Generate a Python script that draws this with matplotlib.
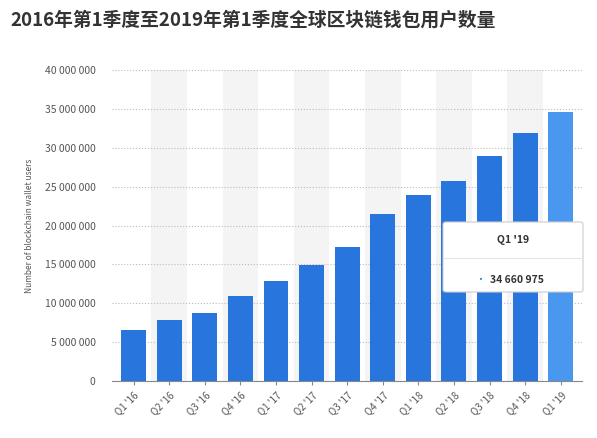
import matplotlib
matplotlib.use("Agg")
import matplotlib.pyplot as plt
from matplotlib.patches import FancyBboxPatch

plt.rcParams['font.family'] = ['Noto Sans CJK SC', 'DejaVu Sans']

categories = ["Q1 '16","Q2 '16","Q3 '16","Q4 '16","Q1 '17","Q2 '17","Q3 '17","Q4 '17",
              "Q1 '18","Q2 '18","Q3 '18","Q4 '18","Q1 '19"]
values = [6600000, 7800000, 8800000, 10900000, 12900000, 14900000, 17200000, 21500000,
          23900000, 25700000, 28900000, 31900000, 34660975]
yticks = [0, 5000000, 10000000, 15000000, 20000000, 25000000, 30000000, 35000000, 40000000]

def fmt(v):
    return f"{v:,}".replace(",", " ")

fig = plt.figure(figsize=(5.97, 4.38), dpi=100)
ax = fig.add_axes([0.188, 0.130, 0.787, 0.710])
x = list(range(len(categories)))
for i in x:
    if i % 2 == 1:
        ax.axvspan(i - 0.5, i + 0.5, color='#f4f4f4', zorder=0, lw=0)
colors = ['#2876dd'] * (len(values) - 1) + ['#4a97f0']
ax.bar(x, values, width=0.7, color=colors, zorder=3)
ax.set_xlim(-0.6, len(categories) - 0.4)
ax.set_ylim(0, 40000000)
ax.set_yticks(yticks)
ax.set_yticklabels([fmt(v) for v in yticks], fontsize=7.5, color='#555555')
ax.set_xticks(x)
ax.set_xticklabels(categories, rotation=45, ha='right', fontsize=7, color='#555555', rotation_mode='anchor')
ax.grid(axis='y', linestyle=':', color='#bbbbbb', zorder=1)
for s in ['top', 'right', 'left']:
    ax.spines[s].set_visible(False)
ax.spines['bottom'].set_color('#888888')
ax.tick_params(axis='y', length=0, pad=12)
ax.tick_params(axis='x', length=3, color='#888888')
ax.set_ylabel('Number of blockchain wallet users', fontsize=6, color='#555555', labelpad=8)

fig.text(0.017, 0.955, '2016年第1季度至2019年第1季度全球区块链钱包用户数量',
         fontsize=13.5, fontweight='bold', color='#333333', va='center')

# tooltip
box = FancyBboxPatch((443/597, (438-292)/438), 140/597, 70/438,
                     boxstyle='round,pad=0,rounding_size=0.005', transform=fig.transFigure,
                     facecolor='white', edgecolor='#cccccc', lw=0.8, zorder=10)
fig.patches.append(box)
fig.add_artist(plt.Line2D([443/597, 583/597], [(438-258)/438]*2, transform=fig.transFigure,
                          color='#e5e5e5', lw=0.8, zorder=11))
fig.text(513/597, (438-240)/438, categories[-1], ha='center', va='center', fontsize=7.5,
         fontweight='bold', color='#333333', zorder=12)
fig.text(480/597, (438-280)/438, '•', ha='center', va='center', fontsize=7, color='#2876dd', zorder=12)
fig.text(490/597, (438-280)/438, fmt(values[-1]), ha='left', va='center', fontsize=7.5,
         fontweight='bold', color='#333333', zorder=12)

fig.savefig('out.png', dpi=100)
